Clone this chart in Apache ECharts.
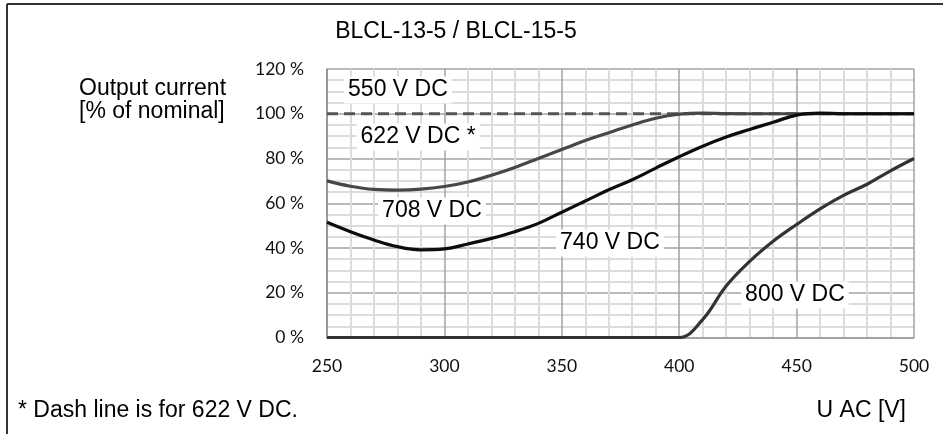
<!DOCTYPE html>
<html><head><meta charset="utf-8">
<script src="https://cdn.jsdelivr.net/npm/echarts@6/dist/echarts.min.js"></script>
<style>html,body{margin:0;padding:0;background:#fff}#c{width:943px;height:434px}</style>
</head><body><div id="c"></div>
<script>
// ---- data ----
const uac = [250,260,270,280,290,300,310,320,330,340,350,360,370,380,390,400,410,420,430,440,450,460,470,480,490,500];
const v622 = [100,100,100,100,100,100,100,100,100,100,100,100,100,100,100,100,100,100,100,100,100,100,100,100,100,100];
const v708 = [70,67.6,66.2,65.9,66.3,67.5,69.5,72.5,76,80,84,88,91.5,95,98,99.8,100.3,100.1,100,100,100,100,100,100,100,100];
const v740 = [51.5,47.3,43.6,40.6,39.2,39.6,41.8,44.3,47.3,51,56,61,66,70.5,75.7,80.8,85.5,89.6,93,96.2,99.4,100.3,100,100,100,100];
const v800 = [0,0,0,0,0,0,0,0,0,0,0,0,0,0,0,0,8,23,34,43,50.5,57.5,63.5,68.5,74.5,80];
const xTicks = [250,300,350,400,450,500];
const yTicks = [0,20,40,60,80,100,120];
const seriesNames = ['622 V DC','708 V DC','740 V DC','800 V DC'];
const annoText = ['550 V DC','622 V DC *','708 V DC','740 V DC','800 V DC'];
const annoX = [280.2,288.8,294.7,370.5,449.3];
const annoY = [110.6,89.6,56.5,42.2,19];

const pair = arr => uac.map((x,i)=>[x,arr[i]]);
const chart = echarts.init(document.getElementById('c'));
const FONT = '"Liberation Sans", Arial, sans-serif';
const textStyle = {fontFamily: FONT, fontSize: 23, fill: '#000'};

chart.setOption({
  animation: false,
  grid: {left: 327, right: 29, top: 69, bottom: 96.5},
  xAxis: {
    type: 'value', min: xTicks[0], max: xTicks[xTicks.length-1], interval: 50,
    axisLine: {show: true, lineStyle: {color: '#9a9a9a', width: 1.5}},
    axisTick: {show: false},
    axisLabel: {margin: 20, fontFamily: 'Lato, sans-serif', fontSize: 17.5, color: '#111'},
    splitLine: {show: true, lineStyle: {color: '#a3a3a3', width: 1.5}},
    minorTick: {show: false, splitNumber: 5},
    minorSplitLine: {show: true, lineStyle: {color: '#dcdcdc', width: 2}}
  },
  yAxis: {
    type: 'value', min: yTicks[0], max: yTicks[yTicks.length-1], interval: 20,
    axisLine: {show: true, lineStyle: {color: '#8c8c8c', width: 1.5}},
    axisTick: {show: false},
    axisLabel: {margin: 23, fontFamily: 'Lato, sans-serif', fontSize: 17.5, color: '#111', formatter: '{value} %'},
    splitLine: {show: true, lineStyle: {color: '#a3a3a3', width: 1.5}},
    minorTick: {show: false, splitNumber: 4},
    minorSplitLine: {show: true, lineStyle: {color: '#dcdcdc', width: 2}}
  },
  series: [
    {name: seriesNames[0], type: 'line', data: pair(v622), showSymbol: false,
     lineStyle: {color: '#555555', width: 3, type: [11, 6]}},
    {name: seriesNames[1], type: 'line', data: pair(v708), showSymbol: false, smooth: 0.4,
     lineStyle: {color: '#474747', width: 3.2}},
    {name: seriesNames[2], type: 'line', data: pair(v740), showSymbol: false, smooth: 0.4,
     lineStyle: {color: '#0d0d0d', width: 3.2}},
    {name: seriesNames[3], type: 'line', data: pair(v800), showSymbol: false, smooth: 0.4,
     lineStyle: {color: '#333333', width: 3.2},
     markPoint: {
       symbol: 'rect', symbolSize: 0.01, silent: true,
       label: {show: true, position: 'inside', fontFamily: FONT, fontSize: 23, color: '#000',
               backgroundColor: '#fff', padding: [2, 4, 2, 4], formatter: p => p.name},
       data: annoText.map((t,i)=>({name: t, coord: [annoX[i], annoY[i]]}))
     }}
  ],
  graphic: [
    {type: 'line', shape: {x1: 7, y1: 4, x2: 943, y2: 4}, style: {stroke: '#333', lineWidth: 2}},
    {type: 'line', shape: {x1: 7, y1: 4, x2: 7, y2: 434}, style: {stroke: '#333', lineWidth: 2}},
    {type: 'text', x: 456, y: 32, style: Object.assign({}, textStyle, {text: 'BLCL-13-5 / BLCL-15-5', textAlign: 'center', textVerticalAlign: 'middle'})},
    {type: 'text', x: 79, y: 89, style: Object.assign({}, textStyle, {text: 'Output current', textAlign: 'left', textVerticalAlign: 'middle'})},
    {type: 'text', x: 79, y: 112, style: Object.assign({}, textStyle, {text: '[% of nominal]', textAlign: 'left', textVerticalAlign: 'middle'})},
    {type: 'text', x: 18, y: 411, style: Object.assign({}, textStyle, {text: '* Dash line is for 622 V DC.', textAlign: 'left', textVerticalAlign: 'middle'})},
    {type: 'text', x: 906, y: 411, style: Object.assign({}, textStyle, {text: 'U AC [V]', textAlign: 'right', textVerticalAlign: 'middle'})}
  ]
});
</script></body></html>
